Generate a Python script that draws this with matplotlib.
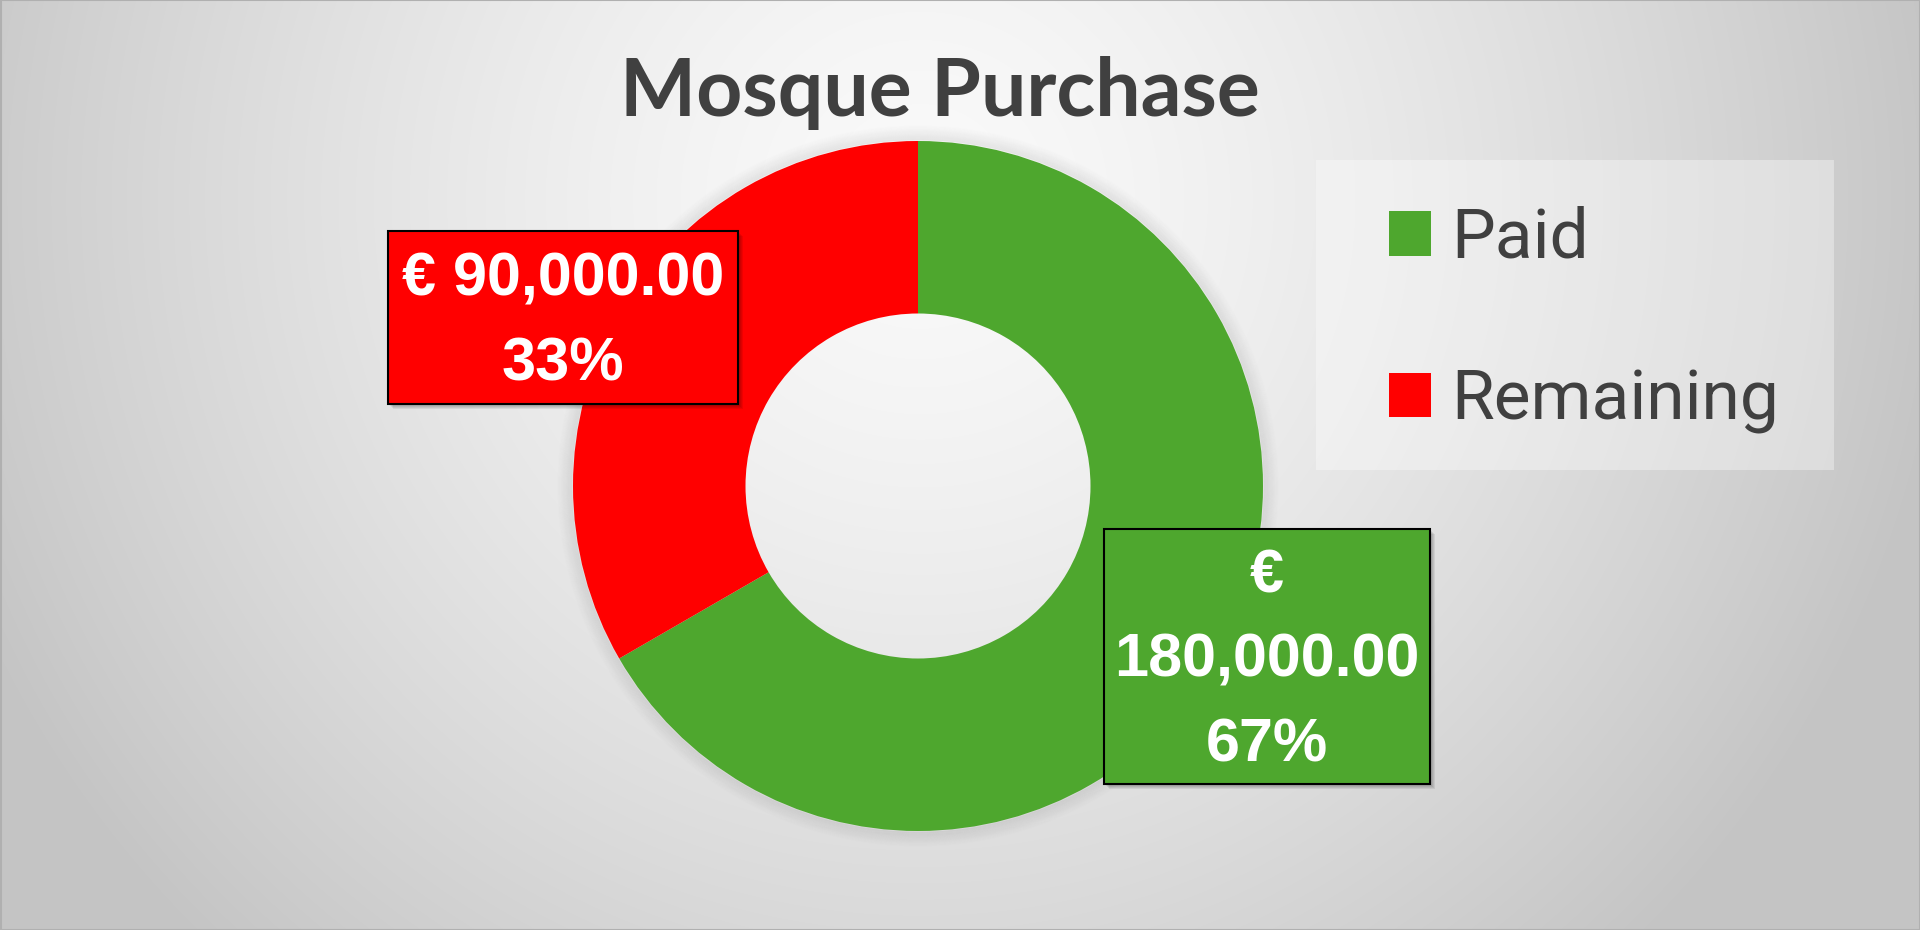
import numpy as np
import matplotlib.pyplot as plt
from matplotlib.patches import Rectangle, Circle

# chart data
labels = ['Paid', 'Remaining']
values = [180000, 90000]
colors = ['#4ea72e', '#ff0000']
title = 'Mosque Purchase'

W, H = 1920, 930
fig = plt.figure(figsize=(W / 100, H / 100), dpi=100)
ax = fig.add_axes([0, 0, 1, 1])

# radial gradient background, light at top centre, grey at the edges
yy, xx = np.mgrid[0:H, 0:W]
r = np.sqrt(((xx - 920) / 1000) ** 2 + ((yy - 200) / 1000) ** 2)
shade = np.clip(0.98 - 0.2 * r ** 1.4, 0.77, 1)
ax.imshow(np.dstack([shade] * 3), extent=(0, W, 0, H), origin='upper', zorder=0)

# donut with a soft shadow ring
cx, cy, R = 918, H - 486, 345
for k in range(1, 16):
    ax.add_patch(Circle((cx, cy), R + k, fill=False, edgecolor='black',
                        alpha=0.05 * (1 - k / 16), lw=1.2, zorder=1))
wedges, _ = ax.pie(values, colors=colors, startangle=90, counterclock=False,
                   center=(cx, cy), radius=R, frame=True,
                   wedgeprops=dict(width=R * 0.5, edgecolor='none', zorder=2))

# data labels in boxes (x, y from top, w, h)
total = sum(values)
pct = [round(v / total * 100) for v in values]
label_text = [f'€\n{values[0]:,.2f}\n{pct[0]}%',
              f'€ {values[1]:,.2f}\n{pct[1]}%']
label_boxes = [(1104, 529, 326, 255), (388, 231, 350, 173)]
for txt, col, (bx, by, bw, bh) in zip(label_text, colors, label_boxes):
    y0 = H - by - bh
    for s in range(1, 6):
        ax.add_patch(Rectangle((bx + s, y0 - s), bw, bh, color='black',
                               alpha=0.07, lw=0, zorder=3))
    ax.add_patch(Rectangle((bx, y0), bw, bh, facecolor=col, edgecolor='black',
                           lw=1.5, zorder=4))
    ax.text(bx + bw / 2, y0 + bh / 2 - 5, txt, ha='center', va='center',
            fontsize=44, fontweight='bold', color='white', linespacing=1.62,
            family=['Liberation Sans', 'DejaVu Sans'], zorder=5)

# title
ax.text(940, H - 116, title, ha='center', va='baseline', fontsize=58,
        fontweight='bold', color='#404040',
        family=['Lato', 'DejaVu Sans'], zorder=5)

# legend
ax.add_patch(Rectangle((1316, H - 470), 518, 310, color='white', alpha=0.35,
                       lw=0, zorder=3))
leg = ax.legend(wedges, labels, loc='upper left', bbox_to_anchor=(1389, H - 206),
                bbox_transform=ax.transData, frameon=False, borderpad=0,
                borderaxespad=0, handlelength=0.6, handleheight=0.6,
                handletextpad=0.3, labelspacing=1.37, labelcolor='#404040',
                prop=dict(family=['Roboto', 'DejaVu Sans'], size=50))
leg.set_zorder(5)

# thin outer frame
ax.add_patch(Rectangle((0.5, 0.5), W - 1, H - 1, fill=False, edgecolor='#b0b0b0',
                       lw=1.5, zorder=6))

ax.set_xlim(0, W)
ax.set_ylim(0, H)
ax.axis('off')

fig.savefig('out.png', dpi=100)
